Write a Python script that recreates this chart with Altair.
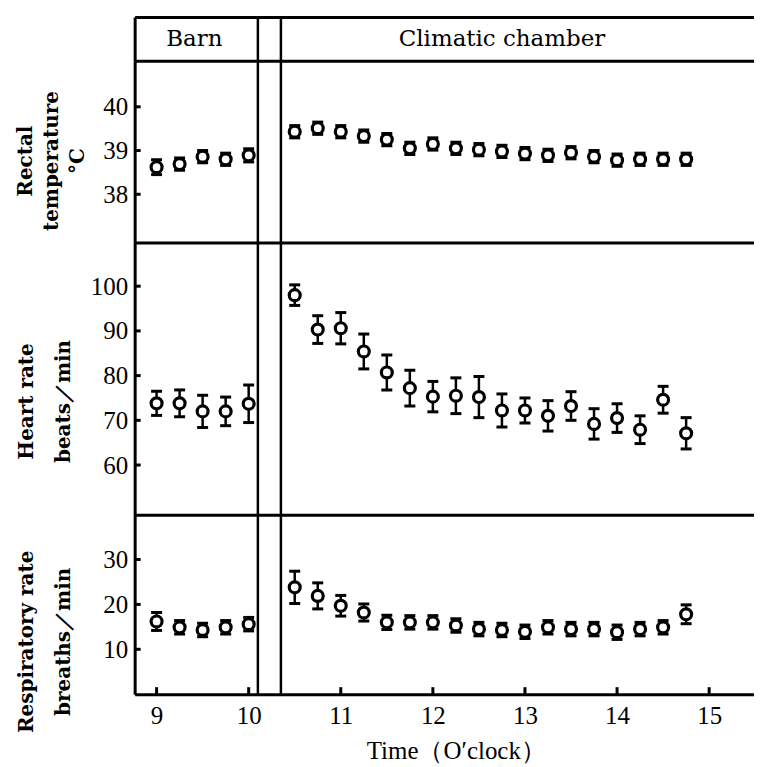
import altair as alt
import pandas as pd

# ---------------- data ----------------
barn_times = [9.0, 9.25, 9.5, 9.75, 10.0]
chamber_times = [10.5, 10.75, 11.0, 11.25, 11.5, 11.75, 12.0, 12.25, 12.5,
                 12.75, 13.0, 13.25, 13.5, 13.75, 14.0, 14.25, 14.5, 14.75]

rectal_barn = [38.62, 38.69, 38.86, 38.80, 38.89]
rectal_barn_err = [0.17, 0.14, 0.14, 0.14, 0.15]
rectal_chamber = [39.43, 39.51, 39.43, 39.33, 39.25, 39.05, 39.15, 39.05, 39.02,
                  38.98, 38.93, 38.89, 38.95, 38.86, 38.78, 38.80, 38.80, 38.80]
rectal_chamber_err = [0.14, 0.14, 0.14, 0.14, 0.14, 0.14, 0.14, 0.14, 0.14,
                      0.14, 0.14, 0.14, 0.14, 0.14, 0.14, 0.14, 0.14, 0.14]

heart_barn = [73.8, 73.8, 72.0, 72.0, 73.7]
heart_barn_err = [2.7, 3.0, 3.6, 3.2, 4.2]
heart_chamber = [98.0, 90.3, 90.6, 85.4, 80.7, 77.2, 75.3, 75.5, 75.2,
                 72.2, 72.2, 71.0, 73.2, 69.2, 70.5, 67.9, 74.6, 67.1]
heart_chamber_err = [2.3, 3.1, 3.5, 3.9, 3.9, 4.0, 3.4, 4.0, 4.6,
                     3.7, 2.8, 3.4, 3.2, 3.4, 3.2, 3.1, 3.0, 3.5]

resp_barn = [16.2, 14.9, 14.3, 14.9, 15.6]
resp_barn_err = [2.0, 1.5, 1.5, 1.5, 1.5]
resp_chamber = [23.8, 21.9, 19.7, 18.2, 16.0, 16.0, 16.0, 15.3, 14.5,
                14.3, 13.9, 14.9, 14.5, 14.5, 13.8, 14.5, 14.9, 17.8]
resp_chamber_err = [3.6, 2.9, 2.3, 1.9, 1.6, 1.5, 1.5, 1.5, 1.5,
                    1.5, 1.5, 1.5, 1.5, 1.5, 1.6, 1.5, 1.5, 2.1]

x_ticks = [9, 10, 11, 12, 13, 14, 15]
rectal_ticks = [38, 39, 40]
heart_ticks = [60, 70, 80, 90, 100]
resp_ticks = [10, 20, 30]
separators = [10.1, 10.35]
header_labels = ["Barn", "Climatic chamber"]
header_pos = [9.41, 12.75]

# ---------------- styling ----------------
W = 621
NUM_FONT = "Liberation Serif"
TXT_FONT = "DejaVu Serif"
xscale = alt.Scale(domain=[8.762, 15.487], nice=False, zero=False)


def frame(ta, va, ea, tb, vb, eb):
    t = ta + tb
    v = va + vb
    e = ea + eb
    return pd.DataFrame({
        "t": t, "v": v,
        "lo": [a - b for a, b in zip(v, e)],
        "hi": [a + b for a, b in zip(v, e)],
    })


sep_df = pd.DataFrame({"s": separators})
tick_df = pd.DataFrame({"tk": x_ticks})


def x_axis(bottom=False):
    kw = dict(orient="bottom", domain=True, domainColor="black", domainWidth=3,
              ticks=False, grid=False, values=x_ticks)
    if bottom:
        kw.update(labels=True, labelFont=NUM_FONT, labelFontSize=25,
                  labelColor="black", labelPadding=9,
                  title="Time（O′clock）", titleFont=NUM_FONT, titleFontSize=25,
                  titleFontWeight="normal", titleColor="black",
                  titleX=322, titleY=64, titleBaseline="alphabetic")
    else:
        kw.update(labels=False, title=None)
    return alt.Axis(**kw)


def y_axis(values, title, tx, ty, lh):
    return alt.Axis(orient="left", values=values, domain=True, domainColor="black",
                    domainWidth=3, ticks=False, labels=True, labelFont=NUM_FONT,
                    labelFontSize=25, labelColor="black", labelPadding=7,
                    grid=False, title=title, titleFont=TXT_FONT,
                    titleFontWeight="bold", titleFontSize=20, titleColor="black",
                    titleX=tx, titleY=ty, titleLineHeight=lh)


def panel(df, ydom, yvals, ytitle, h, tx, ty, lh, bottom=False):
    ys = alt.Scale(domain=ydom, nice=False, zero=False)
    ya = y_axis(yvals, ytitle, tx, ty, lh)
    xa = x_axis(bottom)
    X = alt.X("t:Q", scale=xscale, axis=xa)
    base = alt.Chart(df)
    seps = alt.Chart(sep_df).mark_rule(color="black", strokeWidth=2.5).encode(
        x=alt.X("s:Q", scale=xscale, axis=xa))
    yt_df = pd.DataFrame({"yt": yvals})
    yticks = alt.Chart(yt_df).mark_rule(color="black", strokeWidth=3).encode(
        y=alt.Y("yt:Q", scale=ys, axis=ya), x=alt.value(0), x2=alt.value(6))
    bars = base.mark_rule(color="black", strokeWidth=2.5).encode(
        x=X, y=alt.Y("lo:Q", scale=ys, axis=ya), y2="hi:Q")
    cap_lo = base.mark_tick(orient="horizontal", color="black", size=11,
                            thickness=3, opacity=1).encode(
        x=X, y=alt.Y("lo:Q", scale=ys, axis=ya))
    cap_hi = base.mark_tick(orient="horizontal", color="black", size=11,
                            thickness=3, opacity=1).encode(
        x=X, y=alt.Y("hi:Q", scale=ys, axis=ya))
    pts = base.mark_point(shape="circle", size=120, filled=True, fill="white",
                          stroke="black", strokeWidth=3.2, opacity=1).encode(
        x=X, y=alt.Y("v:Q", scale=ys, axis=ya))
    layers = [seps, yticks, bars, cap_lo, cap_hi, pts]
    if bottom:
        ticks = alt.Chart(tick_df).mark_rule(color="black", strokeWidth=3).encode(
            x=alt.X("tk:Q", scale=xscale, axis=xa),
            y=alt.value(h), y2=alt.value(h - 7))
        layers.append(ticks)
    return alt.layer(*layers).properties(width=W, height=h)


# ---------------- header ----------------
hdr_df = pd.DataFrame({"x": header_pos, "label": header_labels, "y": [0.5, 0.5]})
hdr_y_axis = alt.Axis(orient="left", domain=True, domainColor="black",
                      domainWidth=3, ticks=False, labels=False, grid=False,
                      title=None)
hdr_text = alt.Chart(hdr_df).mark_text(font=TXT_FONT, fontSize=23, color="black",
                                       baseline="middle", align="center").encode(
    x=alt.X("x:Q", scale=xscale,
            axis=alt.Axis(orient="top", domain=True, domainColor="black",
                          domainWidth=3, ticks=False, labels=False, grid=False,
                          title=None)),
    y=alt.Y("y:Q", scale=alt.Scale(domain=[0, 1]), axis=hdr_y_axis),
    text="label:N")
hdr_seps = alt.Chart(sep_df).mark_rule(color="black", strokeWidth=2.5).encode(
    x=alt.X("s:Q", scale=xscale,
            axis=alt.Axis(orient="bottom", domain=True, domainColor="black",
                          domainWidth=3, ticks=False, labels=False, grid=False,
                          title=None)))
header = alt.layer(hdr_text, hdr_seps).resolve_axis(x="independent").properties(
    width=W, height=44)

# ---------------- panels ----------------
p1 = panel(frame(barn_times, rectal_barn, rectal_barn_err,
                 chamber_times, rectal_chamber, rectal_chamber_err),
           [36.9, 41.05], rectal_ticks, ["Rectal", "temperature", "°C"],
           182, -99, 100, 26)
p2 = panel(frame(barn_times, heart_barn, heart_barn_err,
                 chamber_times, heart_chamber, heart_chamber_err),
           [48.9, 109.8], heart_ticks, ["Heart rate", "beats／min"],
           273, -98.5, 159, 37)
p3 = panel(frame(barn_times, resp_barn, resp_barn_err,
                 chamber_times, resp_chamber, resp_chamber_err),
           [0, 40], resp_ticks, ["Respiratory rate", "breaths／min"],
           180, -98.5, 127, 37, bottom=True)

chart = alt.vconcat(header, p1, p2, p3, spacing=0, bounds="flush").properties(
    padding={"left": 7, "top": 6, "right": 0, "bottom": 0},
    background="white",
).configure_view(strokeOpacity=0)

chart.save("out.html", embed_options={"renderer": "svg", "actions": False})
